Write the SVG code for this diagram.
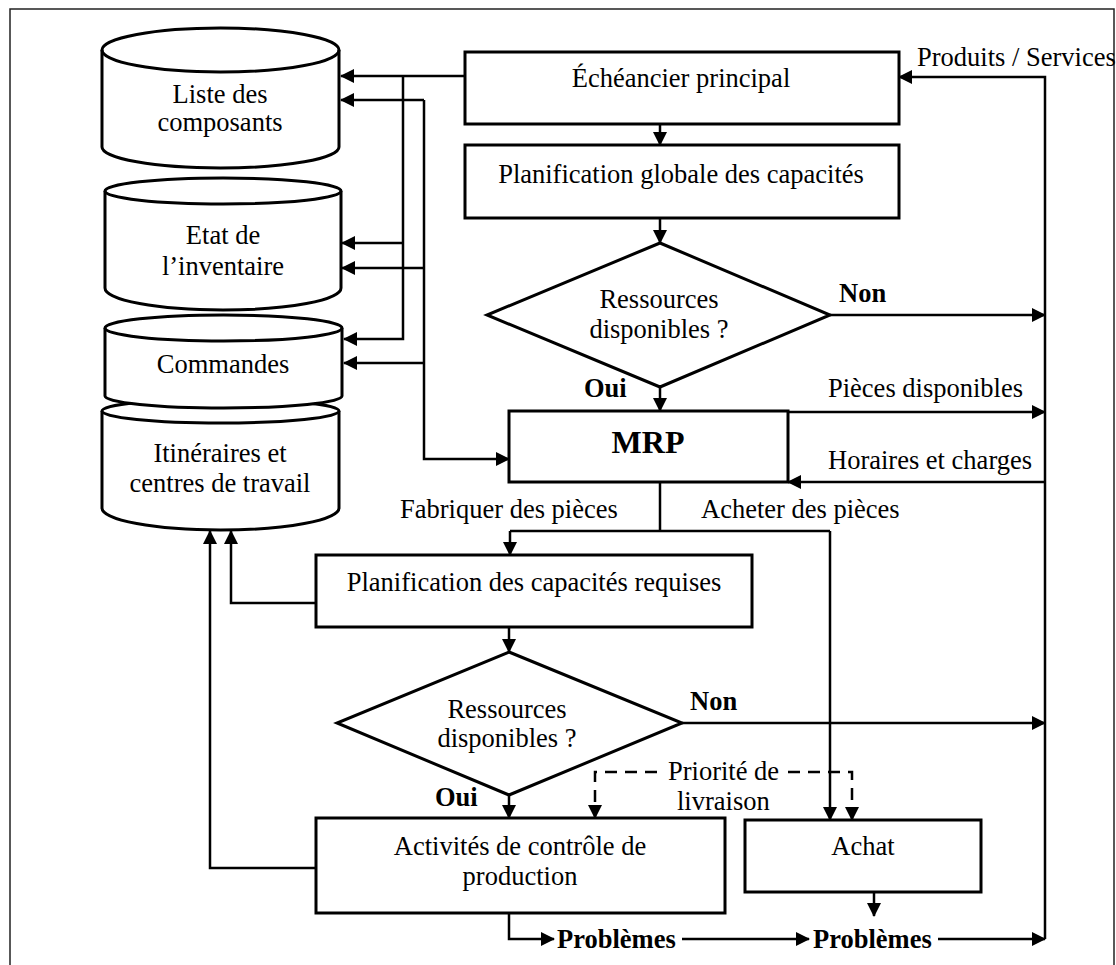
<svg xmlns="http://www.w3.org/2000/svg" width="1116" height="965" viewBox="0 0 1116 965">
  <style>
    .shape { fill: #fff; stroke: #000; stroke-width: 3; }
    .line { fill: none; stroke: #000; stroke-width: 2.5; }
    .dash { fill: none; stroke: #000; stroke-width: 2.5; stroke-dasharray: 12 8; }
    .t { font-family: "Liberation Serif", "Times New Roman", serif; font-size: 26.5px; fill: #000; }
    .c { text-anchor: middle; }
    .b { font-weight: bold; }
  </style>
  <defs>
    <marker id="arrow" markerUnits="userSpaceOnUse" markerWidth="14" markerHeight="14" refX="13" refY="7" orient="auto">
      <path d="M0,0 L14,7 L0,14 Z" fill="#000"/>
    </marker>
  </defs>

  <rect x="0" y="0" width="1116" height="965" fill="#fff"/>
  <!-- outer frame -->
  <rect x="10" y="9" width="1104" height="970" fill="none" stroke="#222" stroke-width="1.5"/>

  <!-- data stores -->
  <g id="itineraires">
    <path class="shape" d="M102,411 A118.5,12 0 0 1 339,411 V508 A118.5,22 0 0 1 102,508 Z"/>
    <path class="shape" fill="none" d="M102,411 A118.5,12 0 0 0 339,411"/>
    <text class="t c" x="220" y="462">Itinéraires et</text>
    <text class="t c" x="220" y="492">centres de travail</text>
  </g>
  <g id="commandes">
    <path class="shape" d="M105,328 A118.5,13 0 0 1 342,328 V396 A118.5,12 0 0 1 105,396 Z"/>
    <path class="shape" style="fill:none" d="M105,328 A118.5,13 0 0 0 342,328"/>
    <text class="t c" x="223" y="373">Commandes</text>
  </g>
  <g id="liste-composants">
    <path class="shape" d="M102,50 A118.5,22 0 0 1 339,50 V147 A118.5,21 0 0 1 102,147 Z"/>
    <path class="shape" style="fill:none" d="M102,50 A118.5,22 0 0 0 339,50"/>
    <text class="t c" x="220" y="103">Liste des</text>
    <text class="t c" x="220" y="131">composants</text>
  </g>
  <g id="etat-inventaire">
    <path class="shape" d="M105,191 A118,13 0 0 1 341,191 V288 A118,22 0 0 1 105,288 Z"/>
    <path class="shape" style="fill:none" d="M105,191 A118,13 0 0 0 341,191"/>
    <text class="t c" x="223" y="244">Etat de</text>
    <text class="t c" x="223" y="275">l’inventaire</text>
  </g>

  <!-- process boxes and decisions -->
  <g id="echeancier">
    <rect class="shape" x="465" y="52" width="434" height="72"/>
    <text class="t c" x="681" y="87">Échéancier principal</text>
  </g>
  <g id="planif-globale">
    <rect class="shape" x="465" y="145" width="434" height="73"/>
    <text class="t c" x="681" y="183">Planification globale des capacités</text>
  </g>
  <g id="decision-1">
    <polygon class="shape" points="660,243 830,315 660,387 487,315"/>
    <text class="t c" x="659" y="308">Ressources</text>
    <text class="t c" x="659" y="338">disponibles ?</text>
  </g>
  <g id="mrp">
    <rect class="shape" x="509" y="411" width="279" height="71"/>
    <text class="t c b" x="648" y="453" style="font-size:32px">MRP</text>
  </g>
  <g id="planif-requises">
    <rect class="shape" x="316" y="555" width="436" height="72"/>
    <text class="t c" x="534" y="591">Planification des capacités requises</text>
  </g>
  <g id="decision-2">
    <polygon class="shape" points="509,652 682,723 509,795 337,723"/>
    <text class="t c" x="507" y="718">Ressources</text>
    <text class="t c" x="507" y="747">disponibles ?</text>
  </g>
  <g id="controle-production">
    <rect class="shape" x="316" y="818" width="409" height="95"/>
    <text class="t c" x="520" y="855">Activités de contrôle de</text>
    <text class="t c" x="520" y="885">production</text>
  </g>
  <g id="achat">
    <rect class="shape" x="745" y="820" width="236" height="72"/>
    <text class="t c" x="863" y="855">Achat</text>
  </g>

  <!-- connectors -->
  <g id="connectors">
    <!-- master schedule to the data stores -->
    <path class="line" d="M465,76 H341" marker-end="url(#arrow)"/>
    <path class="line" d="M403,76 V339 H344" marker-end="url(#arrow)"/>
    <path class="line" d="M403,243 H342" marker-end="url(#arrow)"/>
    <!-- data stores feeding MRP -->
    <path class="line" d="M424,100 V459 H509" marker-end="url(#arrow)"/>
    <path class="line" d="M424,100 H341" marker-end="url(#arrow)"/>
    <path class="line" d="M424,268 H342" marker-end="url(#arrow)"/>
    <path class="line" d="M424,363 H344" marker-end="url(#arrow)"/>
    <!-- main flow -->
    <path class="line" d="M660,124 V145" marker-end="url(#arrow)"/>
    <path class="line" d="M660,218 V243" marker-end="url(#arrow)"/>
    <path class="line" d="M830,315 H1045" marker-end="url(#arrow)"/>
    <path class="line" d="M660,387 V411" marker-end="url(#arrow)"/>
    <path class="line" d="M788,412 H1045" marker-end="url(#arrow)"/>
    <!-- right-hand return line -->
    <path class="line" d="M1045,939 V77 H899" marker-end="url(#arrow)"/>
    <path class="line" d="M1045,482 H788" marker-end="url(#arrow)"/>
    <!-- MRP outputs -->
    <path class="line" d="M660,482 V531"/>
    <path class="line" d="M510,531 H830"/>
    <path class="line" d="M510,531 V555" marker-end="url(#arrow)"/>
    <path class="line" d="M830,531 V820" marker-end="url(#arrow)"/>
    <!-- capacity requirements -->
    <path class="line" d="M316,603 H231 V531" marker-end="url(#arrow)"/>
    <path class="line" d="M509,627 V652" marker-end="url(#arrow)"/>
    <path class="line" d="M682,723 H1045" marker-end="url(#arrow)"/>
    <path class="line" d="M509,795 V818" marker-end="url(#arrow)"/>
    <!-- production activity control -->
    <path class="line" d="M316,868 H210 V531" marker-end="url(#arrow)"/>
    <path class="line" d="M509,913 V939 H554" marker-end="url(#arrow)"/>
    <path class="line" d="M682,939 H809" marker-end="url(#arrow)"/>
    <path class="line" d="M938,939 H1045" marker-end="url(#arrow)"/>
    <path class="line" d="M874,892 V916" marker-end="url(#arrow)"/>
    <!-- delivery priority (dashed) -->
    <path class="dash" d="M657,772 H595 V818" marker-end="url(#arrow)"/>
    <path class="dash" d="M788,772 H852 V820" marker-end="url(#arrow)"/>
  </g>

  <!-- connector labels -->
  <g id="labels">
    <text class="t" x="917" y="66">Produits / Services</text>
    <text class="t b" x="839" y="302">Non</text>
    <text class="t b" x="584" y="397">Oui</text>
    <text class="t" x="828" y="397">Pièces disponibles</text>
    <text class="t" x="828" y="469">Horaires et charges</text>
    <text class="t" x="400" y="518">Fabriquer des pièces</text>
    <text class="t" x="701" y="518">Acheter des pièces</text>
    <text class="t b" x="690" y="710">Non</text>
    <text class="t b" x="435" y="806">Oui</text>
    <text class="t" x="668" y="780">Priorité de</text>
    <text class="t" x="677" y="810">livraison</text>
    <text class="t b" x="557" y="948">Problèmes</text>
    <text class="t b" x="813" y="948">Problèmes</text>
  </g>
</svg>
